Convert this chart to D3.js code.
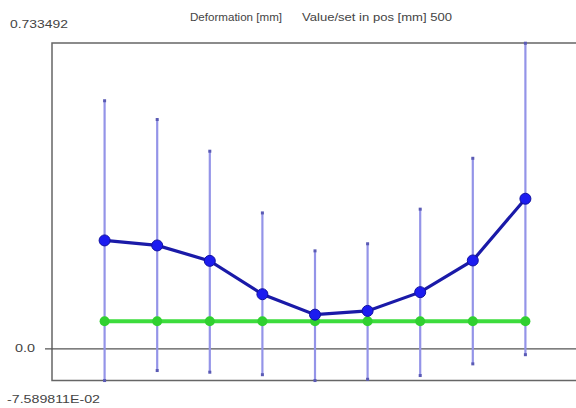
<!DOCTYPE html>
<html><head><meta charset="utf-8">
<script src="https://cdn.jsdelivr.net/npm/d3@7"></script>
<style>body{margin:0;background:#fff}svg{display:block}</style>
</head><body>
<svg id="c" width="576" height="408"></svg>
<script>
const positions = [1,2,3,4,5,6,7,8,9];
const meanValues = [0.260, 0.248, 0.211, 0.131, 0.082, 0.091, 0.136, 0.212, 0.360];
const upperValues = [0.595, 0.550, 0.474, 0.326, 0.235, 0.252, 0.335, 0.457, 0.733];
const lowerValues = [-0.076, -0.052, -0.056, -0.062, -0.076, -0.073, -0.064, -0.036, -0.014];
const setValues = [0.066, 0.066, 0.066, 0.066, 0.066, 0.066, 0.066, 0.066, 0.066];
const yMax = 0.733492, yMin = -0.07589811;
const titleParts = ["Deformation [mm]", "Value/set in pos [mm] 500"];
const yTopLabel = "0.733492", yZeroLabel = "0.0", yBottomLabel = "-7.589811E-02";

const svg = d3.select("#c");
const x = d3.scaleLinear().domain([0, 10]).range([52, 578]);
const y = d3.scaleLinear().domain([yMin, yMax]).range([380.5, 43]);

const font = "'Liberation Sans', Arial, sans-serif";
// frame
svg.append("rect").attr("x", x(0)).attr("y", y(yMax)).attr("width", 600).attr("height", y(yMin) - y(yMax))
  .attr("fill", "none").attr("stroke", "#666").attr("stroke-width", 1.5);
// zero line
svg.append("line").attr("x1", 45).attr("x2", 576).attr("y1", y(0)).attr("y2", y(0))
  .attr("stroke", "#555").attr("stroke-width", 1.3);

// error bars
const g = svg.append("g");
positions.forEach((p, i) => {
  g.append("line").attr("x1", x(p)).attr("x2", x(p)).attr("y1", y(upperValues[i])).attr("y2", y(lowerValues[i]))
    .attr("stroke", "#9494e8").attr("stroke-width", 2.2);
  [upperValues[i], lowerValues[i]].forEach(v => {
    g.append("rect").attr("x", x(p) - 1.5).attr("y", y(v) - 1.5).attr("width", 3).attr("height", 3).attr("fill", "#5a5ab4");
  });
});

// set line (green)
const line = d3.line().x((d, i) => x(positions[i])).y(d => y(d));
svg.append("path").datum(setValues).attr("d", line).attr("fill", "none").attr("stroke", "#3ddc3d").attr("stroke-width", 4);
svg.selectAll(".gp").data(setValues).join("circle").attr("cx", (d, i) => x(positions[i])).attr("cy", d => y(d))
  .attr("r", 5).attr("fill", "#30d030");

// mean line (blue)
svg.append("path").datum(meanValues).attr("d", line).attr("fill", "none").attr("stroke", "#1a1aa8").attr("stroke-width", 3.2);
svg.selectAll(".bp").data(meanValues).join("circle").attr("cx", (d, i) => x(positions[i])).attr("cy", d => y(d))
  .attr("r", 5.5).attr("fill", "#1c1cf0").attr("stroke", "#1212a0").attr("stroke-width", 1);

// texts
const txt = (t, tx, ty, len) => svg.append("text").attr("x", tx).attr("y", ty).text(t)
  .attr("font-family", font).attr("font-size", 11).attr("fill", "#444")
  .attr("dominant-baseline", "middle").attr("textLength", len).attr("lengthAdjust", "spacingAndGlyphs");
txt(titleParts[0], 190, 18, 92);
txt(titleParts[1], 302, 18, 150);
txt(yTopLabel, 10, 25, 58);
txt(yZeroLabel, 15, y(0), 20);
txt(yBottomLabel, 7, 400, 93);
</script>
</body></html>
